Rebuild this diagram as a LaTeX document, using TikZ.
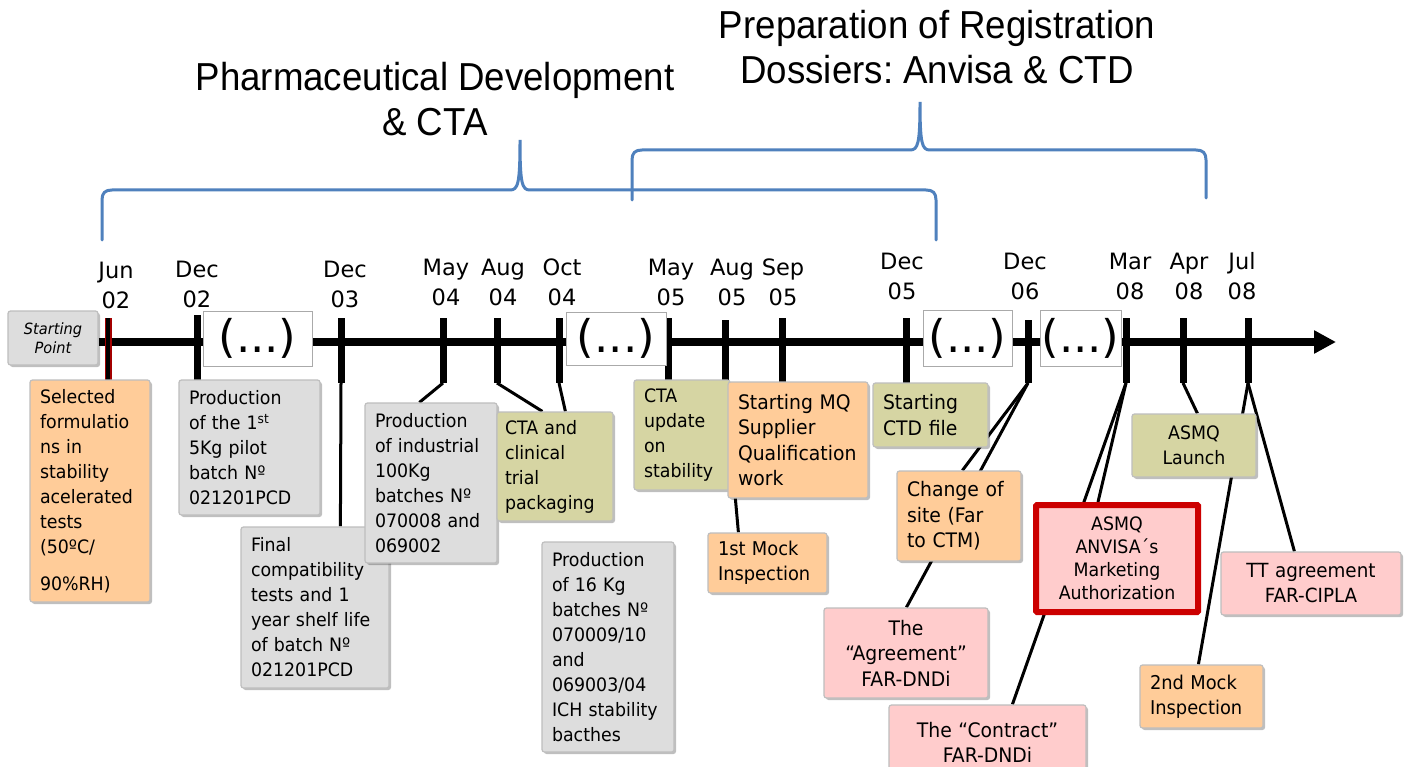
\documentclass[tikz,border=0pt]{standalone}
\usepackage{fontspec}
\setmainfont{DejaVu Sans}
\newfontfamily\boxfont[FakeStretch=0.94]{DejaVu Sans}
\newfontfamily\titlefont[FakeStretch=0.94]{Liberation Sans}
\usetikzlibrary{arrows.meta,shadows}
\definecolor{cOrange}{RGB}{255,204,153}
\definecolor{cGray}{RGB}{221,221,221}
\definecolor{cOlive}{RGB}{214,213,163}
\definecolor{cPink}{RGB}{255,204,204}
\definecolor{cBrace}{RGB}{79,129,189}
\definecolor{cardline}{RGB}{190,190,190}
\definecolor{gapline}{RGB}{170,170,170}
\definecolor{cRed}{RGB}{204,0,0}
\pgfdeclarelayer{paper}
\pgfdeclarelayer{lines}
\pgfsetlayers{paper,lines,main}
\frenchspacing
\begin{document}
\begin{tikzpicture}[x=1pt,y=-1pt,
  card/.style={draw=cardline, line width=1.2pt, rounded corners=2.5pt, inner xsep=10pt, inner ysep=0pt,
    align=left, font=\boxfont\fontsize{18.5}{25}\selectfont,
    drop shadow={shadow xshift=2pt, shadow yshift=-2pt, fill=black, opacity=0.25}},
  bigtext/.style={font=\boxfont\fontsize{20}{25.5}\selectfont},
  orangecard/.style={card, fill=cOrange},
  graycard/.style={card, fill=cGray},
  olivecard/.style={card, fill=cOlive},
  pinkcard/.style={card, fill=cPink, align=center},
  gapbox/.style={draw=gapline, line width=1pt, fill=white, inner sep=0pt, font=\fontsize{45}{45}\selectfont},
  datelbl/.style={anchor=south, inner sep=0pt, align=center, font=\fontsize{22.5}{30}\selectfont},
  ttl/.style={anchor=south, inner sep=0pt, align=center, font=\titlefont\fontsize{39}{44.5}\selectfont},
  tickline/.style={line width=7pt},
  link/.style={line width=3pt},
  brace/.style={draw=cBrace, line width=3pt, line cap=round}
]
\useasboundingbox (0,0) rectangle (1407,767);
\begin{pgfonlayer}{paper}
  \fill[white] (0,0) rectangle (1407,767);
\end{pgfonlayer}

% titles
\node[ttl] (ttlA) at (435,136) {Pharmaceutical Development\\\& CTA};
\node[ttl] (ttlB) at (937,84) {Preparation of Registration\\Dossiers: Anvisa \& CTD};

% braces
\draw[brace] (102,240) -- (102,200) .. controls (102,193) and (105,190) .. (112,190) -- (510,190)
  .. controls (518,190) and (520,184) .. (520,140) .. controls (520,184) and (522,190) .. (530,190)
  -- (926,190) .. controls (933,190) and (936,193) .. (936,200) -- (936,240);
\draw[brace] (632,200) -- (632,160) .. controls (632,153) and (635,150) .. (642,150) -- (910,150)
  .. controls (918,150) and (920,144) .. (920,102) .. controls (920,144) and (922,150) .. (930,150)
  -- (1196,150) .. controls (1203,150) and (1206,153) .. (1206,160) -- (1206,198);

% start and gaps
\node[graycard, align=center, inner xsep=0pt, text width=90pt, minimum height=54pt,
      font=\boxfont\itshape\fontsize{15.5}{19.5}\selectfont] (start) at (53,338) {Starting\\Point};
\node[gapbox, minimum width=109pt, minimum height=55pt] (e1) at (257.5,338.5) {(...)};
\node[gapbox, minimum width=100pt, minimum height=53pt] (e2) at (616,338.5) {(...)};
\node[gapbox, minimum width=89pt, minimum height=56pt] (e3) at (967.5,338) {(...)};
\node[gapbox, minimum width=81pt, minimum height=56pt] (e4) at (1080.5,338) {(...)};
\coordinate (tip) at (1336,342);

% date labels
\node[datelbl] (d1) at (116,309) {Jun\\02};
\node[datelbl] (d2) at (197,308) {Dec\\02};
\node[datelbl] (d3) at (345,308) {Dec\\03};
\node[datelbl] (d4) at (446,306) {May\\04};
\node[datelbl] (d5) at (503,306) {Aug\\04};
\node[datelbl] (d6) at (562,306) {Oct\\04};
\node[datelbl] (d7) at (671,306) {May\\05};
\node[datelbl] (d8) at (732,306) {Aug\\05};
\node[datelbl] (d9) at (783,306) {Sep\\05};
\node[datelbl] (d10) at (902,300) {Dec\\05};
\node[datelbl] (d11) at (1025,300) {Dec\\06};
\node[datelbl] (d12) at (1130,300) {Mar\\08};
\node[datelbl] (d13) at (1189,300) {Apr\\08};
\node[datelbl] (d14) at (1242,300) {Jul\\08};

% tick coordinates
\coordinate (k1a) at (108,318);  \coordinate (k1b) at (108,380);
\coordinate (k2a) at (197,315);  \coordinate (k2b) at (197,380);
\coordinate (k3a) at (341,318);  \coordinate (k3b) at (341,383);
\coordinate (k4a) at (443,318);  \coordinate (k4b) at (443,383);
\coordinate (k5a) at (497,318);  \coordinate (k5b) at (497,383);
\coordinate (k6a) at (559,318);  \coordinate (k6b) at (559,383);
\coordinate (k7a) at (668,318);  \coordinate (k7b) at (668,380);
\coordinate (k8a) at (725,320);  \coordinate (k8b) at (725,383);
\coordinate (k9a) at (782,318);  \coordinate (k9b) at (782,382);
\coordinate (k10a) at (906,318); \coordinate (k10b) at (906,383);
\coordinate (k11a) at (1028,320); \coordinate (k11b) at (1028,383);
\coordinate (k12a) at (1126,318); \coordinate (k12b) at (1126,383);
\coordinate (k13a) at (1183,318); \coordinate (k13b) at (1183,383);
\coordinate (k14a) at (1248,318); \coordinate (k14b) at (1248,383);

% event boxes
\node[orangecard, text width=100pt, minimum height=222pt] (sel) at (90,491)
  {Selected\\formulatio\\ns in\\stability\\acelerated\\tests\\(50ºC/\\[12pt]90\%RH)};
\node[graycard, text width=121pt, minimum height=135pt] (prod1) at (249.5,447.5)
  {Production\\of the 1\textsuperscript{st}\\5Kg pilot\\batch Nº\\021201PCD};
\node[graycard, text width=128pt, minimum height=161pt] (fin) at (315,607.5)
  {Final\\compatibility\\tests and 1\\year shelf life\\of batch Nº\\021201PCD};
\node[graycard, text width=112pt, minimum height=160pt] (ind) at (431,483)
  {Production\\of industrial\\100Kg\\batches Nº\\070008 and\\069002};
\node[olivecard, inner xsep=8pt, text width=100pt, minimum height=109pt] (cta) at (555,466.5)
  {CTA and\\clinical\\trial\\packaging};
\node[graycard, text width=112pt, minimum height=210pt] (p16) at (608,647)
  {Production\\of 16 Kg\\batches Nº\\070009/10\\and\\069003/04\\ICH stability\\bacthes};
\node[olivecard, text width=76pt, minimum height=110pt] (ctau) at (682,435)
  {CTA\\update\\on\\stability};
\node[orangecard, bigtext, text width=120pt, minimum height=116pt] (mq) at (798,440)
  {Starting MQ\\Supplier\\Qualification\\work};
\node[orangecard, font=\boxfont\fontsize{19}{25}\selectfont, text width=99pt, minimum height=60pt] (mock1) at (767.5,563)
  {1st Mock\\Inspection};
\node[olivecard, bigtext, text width=95pt, minimum height=64pt] (ctd) at (930.5,415)
  {Starting\\CTD file};
\node[orangecard, bigtext, text width=104pt, minimum height=90pt] (chg) at (959,516)
  {Change of\\site (Far\\to CTM)};
\node[pinkcard, bigtext, text width=144pt, minimum height=90pt] (agr) at (906,653)
  {The\\“Agreement”\\FAR-DNDi};
\node[pinkcard, draw=cRed, line width=6pt, rounded corners=1pt, text width=142pt, minimum height=107pt,
      font=\boxfont\fontsize{18.5}{23}\selectfont] (anv) at (1117,558.5)
  {ASMQ\\ANVISA´s\\Marketing\\Authorization};
\node[pinkcard, bigtext, text width=177pt, minimum height=75pt] (con) at (987.5,742.5)
  {The “Contract”\\FAR-DNDi};
\node[olivecard, align=center, text width=104pt, minimum height=63pt] (lau) at (1194,445.5)
  {ASMQ\\Launch};
\node[pinkcard, font=\boxfont\fontsize{19.5}{25}\selectfont, text width=160pt, minimum height=63pt] (tt) at (1311,583.5)
  {TT agreement\\FAR-CIPLA};
\node[orangecard, font=\boxfont\fontsize{19}{25}\selectfont, text width=103pt, minimum height=63pt] (mock2) at (1201.5,696.5)
  {2nd Mock\\Inspection};

\begin{pgfonlayer}{lines}
  % timeline
  \draw[line width=8pt, -{Triangle[length=22pt,width=22pt]}] (start.east |- tip) -- (tip);
  % ticks
  \draw[tickline, cRed!80!black] (k1a) -- (k1b);
  \draw[line width=3.5pt] (k1a) -- (k1b);
  \foreach \k in {2,...,14} { \draw[tickline] (k\k a) -- (k\k b); }
  % connectors
  \draw[link] (k3b) -- ([xshift=100pt]fin.north west);
  \draw[link] (k4b) -- ([xshift=55pt]ind.north west);
  \draw[link] (k5b) -- ([xshift=46pt]cta.north west);
  \draw[link] (k6b) -- ([xshift=69pt]cta.north west);
  \draw[link] (k8b) -- ([xshift=31pt]mock1.north west);
  \draw[link] (k11b) -- ([xshift=66pt]chg.north west);
  \draw[link] (k11b) -- ([xshift=83pt]agr.north west);
  \draw[link] (k12b) -- ([xshift=65pt]anv.north west);
  \draw[link] (k12b) -- ([xshift=124pt]con.north west);
  \draw[link] (k13b) -- ([xshift=66pt]lau.north west);
  \draw[link] (k14b) -- ([xshift=59pt]mock2.north west);
  \draw[link] (k14b) -- ([xshift=74pt]tt.north west);
\end{pgfonlayer}
\end{tikzpicture}
\end{document}
